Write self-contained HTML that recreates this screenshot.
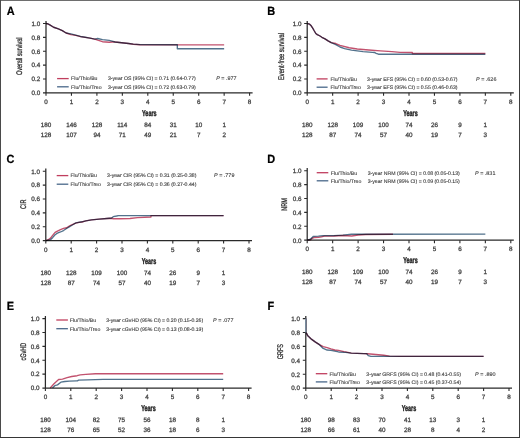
<!DOCTYPE html>
<html><head><meta charset="utf-8"><style>
html,body{margin:0;padding:0;background:#fff;}
body{width:520px;height:438px;overflow:hidden;}
svg{display:block;font-family:"Liberation Sans",sans-serif;will-change:transform;}
.cv{mix-blend-mode:multiply;}
.pl{fill:#000;stroke:#000;stroke-width:0.22px;}
.lg{stroke-width:0.12px;fill:#404040;stroke:#404040;}
.ti{stroke-width:0.4px;fill:#262626;stroke:#262626;}
.yl{stroke-width:0.3px;fill:#303030;stroke:#303030;}
text{fill:#444444;text-rendering:geometricPrecision;stroke:#444444;stroke-width:0.28px;}
</style></head><body>
<svg width="520" height="438" viewBox="0 0 520 438">
<rect x="0" y="0" width="520" height="438" fill="#fff"/>
<text transform="translate(6.7,14.6) scale(0.92,1)" font-size="11.9" font-weight="bold" class="pl">A</text>
<path d="M46.00 20.90V92.80M43.00 92.80H252.60" stroke="#2a2a2a" stroke-width="1.25" fill="none"/>
<path d="M43.00 78.94H46.00M43.00 65.08H46.00M43.00 51.22H46.00M43.00 37.36H46.00M43.00 23.50H46.00M46.00 92.80V95.80M71.45 92.80V95.80M96.90 92.80V95.80M122.35 92.80V95.80M147.80 92.80V95.80M173.25 92.80V95.80M198.70 92.80V95.80M224.15 92.80V95.80M249.60 92.80V95.80" stroke="#2a2a2a" stroke-width="1.1" fill="none"/>
<text x="40.20" y="95.10" font-size="6.3" text-anchor="end" >0.0</text>
<text x="40.20" y="81.24" font-size="6.3" text-anchor="end" >0.2</text>
<text x="40.20" y="67.38" font-size="6.3" text-anchor="end" >0.4</text>
<text x="40.20" y="53.52" font-size="6.3" text-anchor="end" >0.6</text>
<text x="40.20" y="39.66" font-size="6.3" text-anchor="end" >0.8</text>
<text x="40.20" y="25.80" font-size="6.3" text-anchor="end" >1.0</text>
<text x="46.00" y="103.80" font-size="6.3" text-anchor="middle" >0</text>
<text x="71.45" y="103.80" font-size="6.3" text-anchor="middle" >1</text>
<text x="96.90" y="103.80" font-size="6.3" text-anchor="middle" >2</text>
<text x="122.35" y="103.80" font-size="6.3" text-anchor="middle" >3</text>
<text x="147.80" y="103.80" font-size="6.3" text-anchor="middle" >4</text>
<text x="173.25" y="103.80" font-size="6.3" text-anchor="middle" >5</text>
<text x="198.70" y="103.80" font-size="6.3" text-anchor="middle" >6</text>
<text x="224.15" y="103.80" font-size="6.3" text-anchor="middle" >7</text>
<text x="249.60" y="103.80" font-size="6.3" text-anchor="middle" >8</text>
<text transform="translate(149.30,116.00) scale(0.65,1)" font-size="8.4" font-weight="bold" text-anchor="middle" class="ti">Years</text>
<text x="46.00" y="127.00" font-size="6.3" text-anchor="middle" >180</text>
<text x="71.45" y="127.00" font-size="6.3" text-anchor="middle" >146</text>
<text x="96.90" y="127.00" font-size="6.3" text-anchor="middle" >128</text>
<text x="122.35" y="127.00" font-size="6.3" text-anchor="middle" >114</text>
<text x="147.80" y="127.00" font-size="6.3" text-anchor="middle" >84</text>
<text x="173.25" y="127.00" font-size="6.3" text-anchor="middle" >31</text>
<text x="198.70" y="127.00" font-size="6.3" text-anchor="middle" >10</text>
<text x="224.15" y="127.00" font-size="6.3" text-anchor="middle" >1</text>
<text x="46.00" y="136.70" font-size="6.3" text-anchor="middle" >128</text>
<text x="71.45" y="136.70" font-size="6.3" text-anchor="middle" >107</text>
<text x="96.90" y="136.70" font-size="6.3" text-anchor="middle" >94</text>
<text x="122.35" y="136.70" font-size="6.3" text-anchor="middle" >71</text>
<text x="147.80" y="136.70" font-size="6.3" text-anchor="middle" >49</text>
<text x="173.25" y="136.70" font-size="6.3" text-anchor="middle" >21</text>
<text x="198.70" y="136.70" font-size="6.3" text-anchor="middle" >7</text>
<text x="224.15" y="136.70" font-size="6.3" text-anchor="middle" >2</text>
<text transform="translate(22.20,56.30) rotate(-90) scale(0.672,1)" font-size="8.2" text-anchor="middle" class="yl">Overall survival</text>
<path d="M57.1 78.6H68.7" stroke="#c03e5e" stroke-width="1.3"/>
<path d="M57.1 86.8H68.7" stroke="#48678a" stroke-width="1.3"/>
<text x="71.10" y="80.40" font-size="5.17" text-anchor="start" class="lg">Flu/Thio/Bu</text>
<text x="71.10" y="88.60" font-size="5.17" text-anchor="start" class="lg">Flu/Thio/Treo</text>
<text x="107.90" y="80.40" font-size="5.17" text-anchor="start" class="lg">3-year OS (95% CI) = 0.71 (0.64-0.77)</text>
<text x="107.90" y="88.60" font-size="5.17" text-anchor="start" class="lg">3-year OS (95% CI) = 0.72 (0.63-0.79)</text>
<text x="216.20" y="80.40" font-size="5.45" text-anchor="start" class="lg"><tspan font-style="italic">P</tspan> = .977</text>
<path d="M46.00 23.50 L47.40 23.71 L49.79 24.82 L53.61 27.24 L58.39 28.84 L62.31 30.57 L66.11 32.99 L70.89 34.59 L75.70 35.35 L80.51 36.60 L85.29 37.36 L90.00 38.12 L94.81 39.09 L97.69 40.13 L102.50 41.73 L109.19 42.21 L112.09 42.00 L114.99 42.00 L121.69 42.77 L128.51 43.46 L133.29 44.29 L140.01 44.71 L224.15 44.84" stroke="#c2526e" stroke-width="1.35" fill="none" stroke-linejoin="round" class="cv"/>
<path d="M46.00 23.50 L47.40 23.71 L49.79 24.82 L53.61 27.24 L58.39 28.84 L62.31 30.57 L66.11 32.99 L70.89 33.90 L75.70 35.07 L80.51 36.46 L85.29 37.29 L90.00 38.12 L94.81 39.09 L97.69 38.47 L102.50 39.58 L109.19 40.41 L112.09 41.10 L114.99 42.00 L121.69 42.77 L128.51 43.46 L133.29 44.15 L140.01 44.57 L177.32 44.71 L177.32 48.79 L224.15 48.79" stroke="#52728c" stroke-width="1.35" fill="none" stroke-linejoin="round" class="cv"/>
<text transform="translate(267.3,14.7) scale(0.92,1)" font-size="11.9" font-weight="bold" class="pl">B</text>
<path d="M307.20 20.90V92.80M304.20 92.80H513.80" stroke="#2a2a2a" stroke-width="1.25" fill="none"/>
<path d="M304.20 78.94H307.20M304.20 65.08H307.20M304.20 51.22H307.20M304.20 37.36H307.20M304.20 23.50H307.20M307.20 92.80V95.80M332.65 92.80V95.80M358.10 92.80V95.80M383.55 92.80V95.80M409.00 92.80V95.80M434.45 92.80V95.80M459.90 92.80V95.80M485.35 92.80V95.80M510.80 92.80V95.80" stroke="#2a2a2a" stroke-width="1.1" fill="none"/>
<text x="301.40" y="95.10" font-size="6.3" text-anchor="end" >0.0</text>
<text x="301.40" y="81.24" font-size="6.3" text-anchor="end" >0.2</text>
<text x="301.40" y="67.38" font-size="6.3" text-anchor="end" >0.4</text>
<text x="301.40" y="53.52" font-size="6.3" text-anchor="end" >0.6</text>
<text x="301.40" y="39.66" font-size="6.3" text-anchor="end" >0.8</text>
<text x="301.40" y="25.80" font-size="6.3" text-anchor="end" >1.0</text>
<text x="307.20" y="103.80" font-size="6.3" text-anchor="middle" >0</text>
<text x="332.65" y="103.80" font-size="6.3" text-anchor="middle" >1</text>
<text x="358.10" y="103.80" font-size="6.3" text-anchor="middle" >2</text>
<text x="383.55" y="103.80" font-size="6.3" text-anchor="middle" >3</text>
<text x="409.00" y="103.80" font-size="6.3" text-anchor="middle" >4</text>
<text x="434.45" y="103.80" font-size="6.3" text-anchor="middle" >5</text>
<text x="459.90" y="103.80" font-size="6.3" text-anchor="middle" >6</text>
<text x="485.35" y="103.80" font-size="6.3" text-anchor="middle" >7</text>
<text x="510.80" y="103.80" font-size="6.3" text-anchor="middle" >8</text>
<text transform="translate(410.50,116.00) scale(0.65,1)" font-size="8.4" font-weight="bold" text-anchor="middle" class="ti">Years</text>
<text x="307.20" y="127.00" font-size="6.3" text-anchor="middle" >180</text>
<text x="332.65" y="127.00" font-size="6.3" text-anchor="middle" >128</text>
<text x="358.10" y="127.00" font-size="6.3" text-anchor="middle" >109</text>
<text x="383.55" y="127.00" font-size="6.3" text-anchor="middle" >100</text>
<text x="409.00" y="127.00" font-size="6.3" text-anchor="middle" >74</text>
<text x="434.45" y="127.00" font-size="6.3" text-anchor="middle" >26</text>
<text x="459.90" y="127.00" font-size="6.3" text-anchor="middle" >9</text>
<text x="485.35" y="127.00" font-size="6.3" text-anchor="middle" >1</text>
<text x="307.20" y="136.70" font-size="6.3" text-anchor="middle" >128</text>
<text x="332.65" y="136.70" font-size="6.3" text-anchor="middle" >87</text>
<text x="358.10" y="136.70" font-size="6.3" text-anchor="middle" >74</text>
<text x="383.55" y="136.70" font-size="6.3" text-anchor="middle" >57</text>
<text x="409.00" y="136.70" font-size="6.3" text-anchor="middle" >40</text>
<text x="434.45" y="136.70" font-size="6.3" text-anchor="middle" >19</text>
<text x="459.90" y="136.70" font-size="6.3" text-anchor="middle" >7</text>
<text x="485.35" y="136.70" font-size="6.3" text-anchor="middle" >3</text>
<text transform="translate(283.60,56.50) rotate(-90) scale(0.69,1)" font-size="8.2" text-anchor="middle" class="yl">Event-free survival</text>
<path d="M316.6 78.9H327.6" stroke="#c03e5e" stroke-width="1.3"/>
<path d="M316.6 87.2H327.6" stroke="#48678a" stroke-width="1.3"/>
<text x="330.40" y="80.70" font-size="5.17" text-anchor="start" class="lg">Flu/Thio/Bu</text>
<text x="330.40" y="89.00" font-size="5.17" text-anchor="start" class="lg">Flu/Thio/Treo</text>
<text x="367.10" y="80.70" font-size="5.17" text-anchor="start" class="lg">3-year EFS (95% CI) = 0.60 (0.53-0.67)</text>
<text x="367.10" y="89.00" font-size="5.17" text-anchor="start" class="lg">3-year EFS (95% CI) = 0.55 (0.46-0.63)</text>
<text x="476.00" y="80.70" font-size="5.45" text-anchor="start" class="lg"><tspan font-style="italic">P</tspan> = .626</text>
<path d="M307.20 23.50 L309.59 24.19 L311.20 25.79 L312.70 28.07 L314.20 30.78 L315.80 33.48 L317.30 34.59 L319.59 35.77 L321.91 37.29 L324.99 38.82 L328.09 40.83 L331.20 42.70 L335.81 43.53 L340.01 45.40 L349.19 47.75 L357.29 49.00 L368.79 50.04 L380.39 50.87 L391.90 51.57 L399.99 52.40 L412.31 52.47 L412.31 53.51 L485.35 53.51" stroke="#c2526e" stroke-width="1.35" fill="none" stroke-linejoin="round" class="cv"/>
<path d="M307.20 23.50 L309.59 24.19 L311.20 25.79 L312.70 28.07 L314.20 30.78 L315.80 33.48 L317.30 34.59 L319.59 35.77 L321.91 37.29 L324.99 38.82 L328.09 40.83 L331.20 42.70 L335.81 44.64 L340.01 46.99 L344.59 48.59 L351.51 50.11 L363.11 51.57 L372.30 52.40 L374.39 52.47 L376.17 53.30 L378.46 54.20 L485.35 54.27" stroke="#52728c" stroke-width="1.35" fill="none" stroke-linejoin="round" class="cv"/>
<text transform="translate(6.4,162.8) scale(0.92,1)" font-size="11.9" font-weight="bold" class="pl">C</text>
<path d="M45.80 168.60V240.60M42.80 240.60H252.00" stroke="#2a2a2a" stroke-width="1.25" fill="none"/>
<path d="M42.80 226.72H45.80M42.80 212.84H45.80M42.80 198.96H45.80M42.80 185.08H45.80M42.80 171.20H45.80M45.80 240.60V243.60M71.20 240.60V243.60M96.60 240.60V243.60M122.00 240.60V243.60M147.40 240.60V243.60M172.80 240.60V243.60M198.20 240.60V243.60M223.60 240.60V243.60M249.00 240.60V243.60" stroke="#2a2a2a" stroke-width="1.1" fill="none"/>
<text x="40.00" y="242.90" font-size="6.3" text-anchor="end" >0.0</text>
<text x="40.00" y="229.02" font-size="6.3" text-anchor="end" >0.2</text>
<text x="40.00" y="215.14" font-size="6.3" text-anchor="end" >0.4</text>
<text x="40.00" y="201.26" font-size="6.3" text-anchor="end" >0.6</text>
<text x="40.00" y="187.38" font-size="6.3" text-anchor="end" >0.8</text>
<text x="40.00" y="173.50" font-size="6.3" text-anchor="end" >1.0</text>
<text x="45.80" y="251.60" font-size="6.3" text-anchor="middle" >0</text>
<text x="71.20" y="251.60" font-size="6.3" text-anchor="middle" >1</text>
<text x="96.60" y="251.60" font-size="6.3" text-anchor="middle" >2</text>
<text x="122.00" y="251.60" font-size="6.3" text-anchor="middle" >3</text>
<text x="147.40" y="251.60" font-size="6.3" text-anchor="middle" >4</text>
<text x="172.80" y="251.60" font-size="6.3" text-anchor="middle" >5</text>
<text x="198.20" y="251.60" font-size="6.3" text-anchor="middle" >6</text>
<text x="223.60" y="251.60" font-size="6.3" text-anchor="middle" >7</text>
<text x="249.00" y="251.60" font-size="6.3" text-anchor="middle" >8</text>
<text transform="translate(148.90,263.80) scale(0.65,1)" font-size="8.4" font-weight="bold" text-anchor="middle" class="ti">Years</text>
<text x="45.80" y="274.80" font-size="6.3" text-anchor="middle" >180</text>
<text x="71.20" y="274.80" font-size="6.3" text-anchor="middle" >128</text>
<text x="96.60" y="274.80" font-size="6.3" text-anchor="middle" >109</text>
<text x="122.00" y="274.80" font-size="6.3" text-anchor="middle" >100</text>
<text x="147.40" y="274.80" font-size="6.3" text-anchor="middle" >74</text>
<text x="172.80" y="274.80" font-size="6.3" text-anchor="middle" >26</text>
<text x="198.20" y="274.80" font-size="6.3" text-anchor="middle" >9</text>
<text x="223.60" y="274.80" font-size="6.3" text-anchor="middle" >1</text>
<text x="45.80" y="284.50" font-size="6.3" text-anchor="middle" >128</text>
<text x="71.20" y="284.50" font-size="6.3" text-anchor="middle" >87</text>
<text x="96.60" y="284.50" font-size="6.3" text-anchor="middle" >74</text>
<text x="122.00" y="284.50" font-size="6.3" text-anchor="middle" >57</text>
<text x="147.40" y="284.50" font-size="6.3" text-anchor="middle" >40</text>
<text x="172.80" y="284.50" font-size="6.3" text-anchor="middle" >19</text>
<text x="198.20" y="284.50" font-size="6.3" text-anchor="middle" >7</text>
<text x="223.60" y="284.50" font-size="6.3" text-anchor="middle" >3</text>
<text transform="translate(25.90,204.30) rotate(-90) scale(0.672,1)" font-size="8.2" text-anchor="middle" class="yl">CIR</text>
<path d="M56.7 175.6H68.3" stroke="#c03e5e" stroke-width="1.3"/>
<path d="M56.7 184.2H68.3" stroke="#48678a" stroke-width="1.3"/>
<text x="70.40" y="177.40" font-size="5.17" text-anchor="start" class="lg">Flu/Thio/Bu</text>
<text x="70.40" y="186.00" font-size="5.17" text-anchor="start" class="lg">Flu/Thio/Treo</text>
<text x="107.10" y="177.40" font-size="5.17" text-anchor="start" class="lg">3-year CIR (95% CI) = 0.31 (0.25-0.38)</text>
<text x="107.10" y="186.00" font-size="5.17" text-anchor="start" class="lg">3-year CIR (95% CI) = 0.36 (0.27-0.44)</text>
<text x="214.00" y="177.40" font-size="5.45" text-anchor="start" class="lg"><tspan font-style="italic">P</tspan> = .779</text>
<path d="M45.80 240.60 L48.19 239.70 L50.50 238.17 L52.81 235.12 L55.10 232.41 L57.41 231.09 L60.51 229.70 L63.50 228.45 L66.60 227.76 L69.70 225.75 L72.80 224.29 L75.80 223.18 L78.90 222.35 L82.00 222.00 L85.80 220.89 L91.49 219.92 L99.19 219.16 L106.91 218.46 L111.69 218.25 L113.21 218.74 L119.99 218.74 L130.00 218.53 L137.49 217.70 L150.96 217.00 L150.96 215.55 L223.60 215.55" stroke="#c2526e" stroke-width="1.35" fill="none" stroke-linejoin="round" class="cv"/>
<path d="M45.80 240.60 L50.50 239.70 L52.81 237.41 L55.10 234.70 L57.41 233.17 L60.51 231.99 L63.50 230.54 L66.60 228.52 L69.70 226.65 L72.80 224.71 L75.80 222.83 L82.00 221.79 L85.80 220.89 L91.49 219.92 L99.19 219.16 L106.91 218.46 L111.69 217.98 L113.21 216.66 L116.49 216.03 L118.49 215.55 L223.60 215.55" stroke="#52728c" stroke-width="1.35" fill="none" stroke-linejoin="round" class="cv"/>
<text transform="translate(267.2,162.6) scale(0.92,1)" font-size="11.9" font-weight="bold" class="pl">D</text>
<path d="M307.20 168.10V240.20M304.20 240.20H513.80" stroke="#2a2a2a" stroke-width="1.25" fill="none"/>
<path d="M304.20 226.30H307.20M304.20 212.40H307.20M304.20 198.50H307.20M304.20 184.60H307.20M304.20 170.70H307.20M307.20 240.20V243.20M332.65 240.20V243.20M358.10 240.20V243.20M383.55 240.20V243.20M409.00 240.20V243.20M434.45 240.20V243.20M459.90 240.20V243.20M485.35 240.20V243.20M510.80 240.20V243.20" stroke="#2a2a2a" stroke-width="1.1" fill="none"/>
<text x="301.40" y="242.50" font-size="6.3" text-anchor="end" >0.0</text>
<text x="301.40" y="228.60" font-size="6.3" text-anchor="end" >0.2</text>
<text x="301.40" y="214.70" font-size="6.3" text-anchor="end" >0.4</text>
<text x="301.40" y="200.80" font-size="6.3" text-anchor="end" >0.6</text>
<text x="301.40" y="186.90" font-size="6.3" text-anchor="end" >0.8</text>
<text x="301.40" y="173.00" font-size="6.3" text-anchor="end" >1.0</text>
<text x="307.20" y="251.20" font-size="6.3" text-anchor="middle" >0</text>
<text x="332.65" y="251.20" font-size="6.3" text-anchor="middle" >1</text>
<text x="358.10" y="251.20" font-size="6.3" text-anchor="middle" >2</text>
<text x="383.55" y="251.20" font-size="6.3" text-anchor="middle" >3</text>
<text x="409.00" y="251.20" font-size="6.3" text-anchor="middle" >4</text>
<text x="434.45" y="251.20" font-size="6.3" text-anchor="middle" >5</text>
<text x="459.90" y="251.20" font-size="6.3" text-anchor="middle" >6</text>
<text x="485.35" y="251.20" font-size="6.3" text-anchor="middle" >7</text>
<text x="510.80" y="251.20" font-size="6.3" text-anchor="middle" >8</text>
<text transform="translate(410.50,263.40) scale(0.65,1)" font-size="8.4" font-weight="bold" text-anchor="middle" class="ti">Years</text>
<text x="307.20" y="274.40" font-size="6.3" text-anchor="middle" >180</text>
<text x="332.65" y="274.40" font-size="6.3" text-anchor="middle" >128</text>
<text x="358.10" y="274.40" font-size="6.3" text-anchor="middle" >109</text>
<text x="383.55" y="274.40" font-size="6.3" text-anchor="middle" >100</text>
<text x="409.00" y="274.40" font-size="6.3" text-anchor="middle" >74</text>
<text x="434.45" y="274.40" font-size="6.3" text-anchor="middle" >26</text>
<text x="459.90" y="274.40" font-size="6.3" text-anchor="middle" >9</text>
<text x="485.35" y="274.40" font-size="6.3" text-anchor="middle" >1</text>
<text x="307.20" y="284.10" font-size="6.3" text-anchor="middle" >128</text>
<text x="332.65" y="284.10" font-size="6.3" text-anchor="middle" >87</text>
<text x="358.10" y="284.10" font-size="6.3" text-anchor="middle" >74</text>
<text x="383.55" y="284.10" font-size="6.3" text-anchor="middle" >57</text>
<text x="409.00" y="284.10" font-size="6.3" text-anchor="middle" >40</text>
<text x="434.45" y="284.10" font-size="6.3" text-anchor="middle" >19</text>
<text x="459.90" y="284.10" font-size="6.3" text-anchor="middle" >7</text>
<text x="485.35" y="284.10" font-size="6.3" text-anchor="middle" >3</text>
<text transform="translate(287.00,204.50) rotate(-90) scale(0.672,1)" font-size="8.2" text-anchor="middle" class="yl">NRM</text>
<path d="M316.7 172.7H328.3" stroke="#c03e5e" stroke-width="1.3"/>
<path d="M316.7 180.8H328.3" stroke="#48678a" stroke-width="1.3"/>
<text x="330.80" y="174.50" font-size="5.17" text-anchor="start" class="lg">Flu/Thio/Bu</text>
<text x="330.80" y="182.60" font-size="5.17" text-anchor="start" class="lg">Flu/Thio/Treo</text>
<text x="367.70" y="174.50" font-size="5.17" text-anchor="start" class="lg">3-year NRM (95% CI) = 0.08 (0.05-0.13)</text>
<text x="367.70" y="182.60" font-size="5.17" text-anchor="start" class="lg">3-year NRM (95% CI) = 0.09 (0.05-0.15)</text>
<text x="475.00" y="174.50" font-size="5.45" text-anchor="start" class="lg"><tspan font-style="italic">P</tspan> = .831</text>
<path d="M307.20 240.20 L310.71 239.78 L312.21 238.32 L314.50 237.49 L318.42 237.42 L321.53 236.79 L324.53 236.17 L333.85 235.96 L343.06 235.47 L351.74 236.03 L358.10 234.99 L365.74 234.50 L392.97 234.22" stroke="#c2526e" stroke-width="1.35" fill="none" stroke-linejoin="round" class="cv"/>
<path d="M307.20 240.20 L309.90 239.50 L312.21 237.42 L313.41 236.38 L318.42 236.17 L323.03 235.61 L333.85 235.61 L343.06 235.13 L351.48 234.29 L485.35 234.15" stroke="#52728c" stroke-width="1.35" fill="none" stroke-linejoin="round" class="cv"/>
<text transform="translate(6.7,309.8) scale(0.92,1)" font-size="11.9" font-weight="bold" class="pl">E</text>
<path d="M45.40 316.00V388.00M42.40 388.00H251.60" stroke="#2a2a2a" stroke-width="1.25" fill="none"/>
<path d="M42.40 374.12H45.40M42.40 360.24H45.40M42.40 346.36H45.40M42.40 332.48H45.40M42.40 318.60H45.40M45.40 388.00V391.00M70.80 388.00V391.00M96.20 388.00V391.00M121.60 388.00V391.00M147.00 388.00V391.00M172.40 388.00V391.00M197.80 388.00V391.00M223.20 388.00V391.00M248.60 388.00V391.00" stroke="#2a2a2a" stroke-width="1.1" fill="none"/>
<text x="39.60" y="390.30" font-size="6.3" text-anchor="end" >0.0</text>
<text x="39.60" y="376.42" font-size="6.3" text-anchor="end" >0.2</text>
<text x="39.60" y="362.54" font-size="6.3" text-anchor="end" >0.4</text>
<text x="39.60" y="348.66" font-size="6.3" text-anchor="end" >0.6</text>
<text x="39.60" y="334.78" font-size="6.3" text-anchor="end" >0.8</text>
<text x="39.60" y="320.90" font-size="6.3" text-anchor="end" >1.0</text>
<text x="45.40" y="399.00" font-size="6.3" text-anchor="middle" >0</text>
<text x="70.80" y="399.00" font-size="6.3" text-anchor="middle" >1</text>
<text x="96.20" y="399.00" font-size="6.3" text-anchor="middle" >2</text>
<text x="121.60" y="399.00" font-size="6.3" text-anchor="middle" >3</text>
<text x="147.00" y="399.00" font-size="6.3" text-anchor="middle" >4</text>
<text x="172.40" y="399.00" font-size="6.3" text-anchor="middle" >5</text>
<text x="197.80" y="399.00" font-size="6.3" text-anchor="middle" >6</text>
<text x="223.20" y="399.00" font-size="6.3" text-anchor="middle" >7</text>
<text x="248.60" y="399.00" font-size="6.3" text-anchor="middle" >8</text>
<text transform="translate(148.50,411.20) scale(0.65,1)" font-size="8.4" font-weight="bold" text-anchor="middle" class="ti">Years</text>
<text x="45.40" y="422.20" font-size="6.3" text-anchor="middle" >180</text>
<text x="70.80" y="422.20" font-size="6.3" text-anchor="middle" >104</text>
<text x="96.20" y="422.20" font-size="6.3" text-anchor="middle" >82</text>
<text x="121.60" y="422.20" font-size="6.3" text-anchor="middle" >75</text>
<text x="147.00" y="422.20" font-size="6.3" text-anchor="middle" >56</text>
<text x="172.40" y="422.20" font-size="6.3" text-anchor="middle" >18</text>
<text x="197.80" y="422.20" font-size="6.3" text-anchor="middle" >8</text>
<text x="223.20" y="422.20" font-size="6.3" text-anchor="middle" >1</text>
<text x="45.40" y="431.90" font-size="6.3" text-anchor="middle" >128</text>
<text x="70.80" y="431.90" font-size="6.3" text-anchor="middle" >76</text>
<text x="96.20" y="431.90" font-size="6.3" text-anchor="middle" >65</text>
<text x="121.60" y="431.90" font-size="6.3" text-anchor="middle" >52</text>
<text x="147.00" y="431.90" font-size="6.3" text-anchor="middle" >36</text>
<text x="172.40" y="431.90" font-size="6.3" text-anchor="middle" >18</text>
<text x="197.80" y="431.90" font-size="6.3" text-anchor="middle" >6</text>
<text x="223.20" y="431.90" font-size="6.3" text-anchor="middle" >3</text>
<text transform="translate(26.00,351.70) rotate(-90) scale(0.672,1)" font-size="8.2" text-anchor="middle" class="yl">cGvHD</text>
<path d="M56.3 320.0H67.9" stroke="#c03e5e" stroke-width="1.3"/>
<path d="M56.3 328.7H67.9" stroke="#48678a" stroke-width="1.3"/>
<text x="69.80" y="321.80" font-size="5.17" text-anchor="start" class="lg">Flu/Thio/Bu</text>
<text x="69.80" y="330.50" font-size="5.17" text-anchor="start" class="lg">Flu/Thio/Treo</text>
<text x="106.20" y="321.80" font-size="5.17" text-anchor="start" class="lg">3-year cGvHD (95% CI) = 0.20 (0.15-0.26)</text>
<text x="106.20" y="330.50" font-size="5.17" text-anchor="start" class="lg">3-year cGvHD (95% CI) = 0.13 (0.08-0.19)</text>
<text x="213.00" y="321.80" font-size="5.45" text-anchor="start" class="lg"><tspan font-style="italic">P</tspan> = .077</text>
<path d="M50.20 388.00 L54.01 383.77 L58.61 379.46 L62.49 379.19 L67.09 377.59 L71.69 376.48 L77.10 375.72 L80.20 374.88 L85.79 374.40 L95.41 373.77 L223.20 373.77" stroke="#c2526e" stroke-width="1.35" fill="none" stroke-linejoin="round" class="cv"/>
<path d="M52.51 388.00 L54.80 385.71 L57.49 384.88 L60.89 382.17 L64.81 381.48 L69.40 381.06 L76.31 380.85 L77.40 380.85 L78.60 380.16 L87.69 379.81 L103.06 379.32 L223.20 379.32" stroke="#52728c" stroke-width="1.35" fill="none" stroke-linejoin="round" class="cv"/>
<text transform="translate(267.6,309.8) scale(0.92,1)" font-size="11.9" font-weight="bold" class="pl">F</text>
<path d="M305.80 316.00V388.10M302.80 388.10H512.00" stroke="#2a2a2a" stroke-width="1.25" fill="none"/>
<path d="M302.80 374.20H305.80M302.80 360.30H305.80M302.80 346.40H305.80M302.80 332.50H305.80M302.80 318.60H305.80M305.80 388.10V391.10M331.20 388.10V391.10M356.60 388.10V391.10M382.00 388.10V391.10M407.40 388.10V391.10M432.80 388.10V391.10M458.20 388.10V391.10M483.60 388.10V391.10M509.00 388.10V391.10" stroke="#2a2a2a" stroke-width="1.1" fill="none"/>
<text x="300.00" y="390.40" font-size="6.3" text-anchor="end" >0.0</text>
<text x="300.00" y="376.50" font-size="6.3" text-anchor="end" >0.2</text>
<text x="300.00" y="362.60" font-size="6.3" text-anchor="end" >0.4</text>
<text x="300.00" y="348.70" font-size="6.3" text-anchor="end" >0.6</text>
<text x="300.00" y="334.80" font-size="6.3" text-anchor="end" >0.8</text>
<text x="300.00" y="320.90" font-size="6.3" text-anchor="end" >1.0</text>
<text x="305.80" y="399.10" font-size="6.3" text-anchor="middle" >0</text>
<text x="331.20" y="399.10" font-size="6.3" text-anchor="middle" >1</text>
<text x="356.60" y="399.10" font-size="6.3" text-anchor="middle" >2</text>
<text x="382.00" y="399.10" font-size="6.3" text-anchor="middle" >3</text>
<text x="407.40" y="399.10" font-size="6.3" text-anchor="middle" >4</text>
<text x="432.80" y="399.10" font-size="6.3" text-anchor="middle" >5</text>
<text x="458.20" y="399.10" font-size="6.3" text-anchor="middle" >6</text>
<text x="483.60" y="399.10" font-size="6.3" text-anchor="middle" >7</text>
<text x="509.00" y="399.10" font-size="6.3" text-anchor="middle" >8</text>
<text transform="translate(408.90,411.30) scale(0.65,1)" font-size="8.4" font-weight="bold" text-anchor="middle" class="ti">Years</text>
<text x="305.80" y="422.30" font-size="6.3" text-anchor="middle" >180</text>
<text x="331.20" y="422.30" font-size="6.3" text-anchor="middle" >98</text>
<text x="356.60" y="422.30" font-size="6.3" text-anchor="middle" >83</text>
<text x="382.00" y="422.30" font-size="6.3" text-anchor="middle" >70</text>
<text x="407.40" y="422.30" font-size="6.3" text-anchor="middle" >41</text>
<text x="432.80" y="422.30" font-size="6.3" text-anchor="middle" >13</text>
<text x="458.20" y="422.30" font-size="6.3" text-anchor="middle" >3</text>
<text x="483.60" y="422.30" font-size="6.3" text-anchor="middle" >1</text>
<text x="305.80" y="432.00" font-size="6.3" text-anchor="middle" >128</text>
<text x="331.20" y="432.00" font-size="6.3" text-anchor="middle" >66</text>
<text x="356.60" y="432.00" font-size="6.3" text-anchor="middle" >61</text>
<text x="382.00" y="432.00" font-size="6.3" text-anchor="middle" >40</text>
<text x="407.40" y="432.00" font-size="6.3" text-anchor="middle" >28</text>
<text x="432.80" y="432.00" font-size="6.3" text-anchor="middle" >8</text>
<text x="458.20" y="432.00" font-size="6.3" text-anchor="middle" >4</text>
<text x="483.60" y="432.00" font-size="6.3" text-anchor="middle" >2</text>
<text transform="translate(282.60,351.60) rotate(-90) scale(0.672,1)" font-size="8.2" text-anchor="middle" class="yl">GRFS</text>
<path d="M315.8 373.7H327.3" stroke="#c03e5e" stroke-width="1.3"/>
<path d="M315.8 381.9H327.3" stroke="#48678a" stroke-width="1.3"/>
<text x="329.40" y="375.50" font-size="5.17" text-anchor="start" class="lg">Flu/Thio/Bu</text>
<text x="329.40" y="383.70" font-size="5.17" text-anchor="start" class="lg">Flu/Thio/Treo</text>
<text x="366.30" y="375.50" font-size="5.17" text-anchor="start" class="lg">3-year GRFS (95% CI) = 0.48 (0.41-0.55)</text>
<text x="366.30" y="383.70" font-size="5.17" text-anchor="start" class="lg">3-year GRFS (95% CI) = 0.45 (0.37-0.54)</text>
<text x="475.10" y="375.50" font-size="5.45" text-anchor="start" class="lg"><tspan font-style="italic">P</tspan> = .890</text>
<path d="M305.80 318.60 L305.80 332.50 L306.31 332.85 L307.81 335.84 L311.69 339.38 L315.50 342.09 L319.39 344.66 L323.20 346.68 L327.11 347.72 L330.90 348.97 L334.81 350.01 L338.59 350.43 L344.00 351.61 L345.60 351.82 L351.29 353.07 L357.11 353.35 L363.99 353.56 L367.50 353.77 L375.80 354.46 L383.80 355.23 L389.59 356.06 L399.78 356.34 L483.60 356.34" stroke="#c2526e" stroke-width="1.35" fill="none" stroke-linejoin="round" class="cv"/>
<path d="M305.80 318.60 L305.80 332.50 L306.31 332.85 L307.81 335.84 L311.69 339.38 L315.50 342.09 L319.39 344.66 L323.20 348.49 L327.11 350.01 L330.90 350.43 L334.81 351.20 L338.59 351.96 L344.00 352.31 L345.60 352.38 L351.29 353.07 L357.11 353.35 L363.99 353.56 L366.76 353.70 L368.28 355.57 L370.90 356.34 L483.60 356.34" stroke="#52728c" stroke-width="1.35" fill="none" stroke-linejoin="round" class="cv"/>
<path d="M305.80 318.60V332.50" stroke="#8aa2b6" stroke-width="1.3"/>
<rect x="0" y="0" width="520" height="1" fill="#6e6e6e"/><rect x="0" y="0" width="1" height="438" fill="#4a4a4a"/><rect x="519" y="0" width="1" height="438" fill="#3c3c3c"/><rect x="0" y="437" width="520" height="1" fill="#363636"/>
</svg>
</body></html>
